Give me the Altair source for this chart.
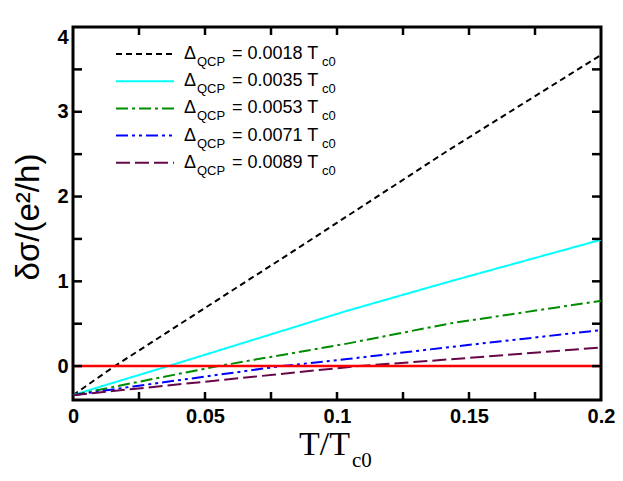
import altair as alt
import pandas as pd

# ---- data ----
series_names = ["0.0018", "0.0035", "0.0053", "0.0071", "0.0089"]
series_colors = ["#000000", "#00FFFF", "#008C00", "#0000FF", "#670748"]
series_dashes = [[6, 4], [1, 0], [12, 4, 3, 4], [12, 4, 3, 4, 3, 4], [14, 5]]

x_0018 = [0.0, 0.0158, 0.0848, 0.1429, 0.2]
y_0018 = [-0.343, 0.0, 1.383, 2.56, 3.67]

x_0035 = [0.0, 0.0101, 0.0361, 0.1038, 0.1429, 0.2]
y_0035 = [-0.343, -0.245, 0.0, 0.652, 1.0, 1.49]

x_0053 = [0.0, 0.0228, 0.055, 0.1038, 0.1429, 0.2]
y_0053 = [-0.343, -0.198, 0.0, 0.265, 0.504, 0.77]

x_0071 = [0.0, 0.0228, 0.079, 0.1038, 0.1429, 0.2]
y_0071 = [-0.343, -0.24, 0.0, 0.083, 0.225, 0.425]

x_0089 = [0.0, 0.0228, 0.108, 0.1429, 0.2]
y_0089 = [-0.343, -0.27, 0.0, 0.08, 0.22]

x_tick_labels = [0, 0.05, 0.1, 0.15, 0.2]
y_tick_labels = [0, 1, 2, 3, 4]
x_minor = [0.025, 0.05, 0.075, 0.1, 0.125, 0.15, 0.175]
y_minor = [0, 0.5, 1, 1.5, 2, 2.5, 3, 3.5]

W, H = 528, 373
FONT = "Liberation Sans"

xs = [x_0018, x_0035, x_0053, x_0071, x_0089]
ys = [y_0018, y_0035, y_0053, y_0071, y_0089]
rows = []
for name, xv, yv in zip(series_names, xs, ys):
    for a, b in zip(xv, yv):
        rows.append({"series": name, "x": a, "y": b})
df = pd.DataFrame(rows)

xscale = alt.Scale(domain=[0, 0.2], nice=False, zero=False)
yscale = alt.Scale(domain=[-0.4, 4], nice=False, zero=False)
cscale = alt.Scale(domain=series_names, range=series_colors)
dscale = alt.Scale(domain=series_names, range=series_dashes)

lines = alt.Chart(df).mark_line(strokeWidth=2).encode(
    x=alt.X("x:Q", scale=xscale,
            axis=alt.Axis(values=x_tick_labels, format="~g", grid=False, domain=False,
                          ticks=False, labelFont=FONT, labelFontWeight="bold",
                          labelFontSize=20, labelColor="black", labelPadding=22,
                          labelBaseline="alphabetic", labelFlush=False, title=None)),
    y=alt.Y("y:Q", scale=yscale,
            axis=alt.Axis(values=y_tick_labels, format="d", grid=False, domain=False,
                          ticks=False, labelFont=FONT, labelFontWeight="bold",
                          labelFontSize=20, labelColor="black", labelPadding=5,
                          labelFlush=True, title=None)),
    color=alt.Color("series:N", scale=cscale, legend=None),
    strokeDash=alt.StrokeDash("series:N", scale=dscale, legend=None),
)

zero_line = alt.Chart(pd.DataFrame({"z": [0]})).mark_rule(color="#FF0000", strokeWidth=2.5).encode(
    y=alt.Y("z:Q", scale=yscale)
)

# inward tick marks on all four sides
xt = pd.DataFrame({"v": x_minor})
yt = pd.DataFrame({"v": y_minor})
bottom_ticks = alt.Chart(xt).mark_rule(color="black", strokeWidth=2.5).encode(
    x=alt.X("v:Q", scale=xscale), y=alt.value(H), y2=alt.value(H - 8))
top_ticks = alt.Chart(xt).mark_rule(color="black", strokeWidth=2.5).encode(
    x=alt.X("v:Q", scale=xscale), y=alt.value(0), y2=alt.value(8))
left_ticks = alt.Chart(yt).mark_rule(color="black", strokeWidth=2.5).encode(
    y=alt.Y("v:Q", scale=yscale), x=alt.value(0), x2=alt.value(9))
right_ticks = alt.Chart(yt).mark_rule(color="black", strokeWidth=2.5).encode(
    y=alt.Y("v:Q", scale=yscale), x=alt.value(W - 9), x2=alt.value(W))

# ---- legend (custom, to allow subscripts) ----
leg = pd.DataFrame({"series": series_names})
leg["row"] = range(len(series_names))
leg["ly"] = 27 + 27.2 * leg["row"]
leg["tb"] = leg["ly"] + 5
leg["sb"] = leg["ly"] + 12
leg["txt"] = "= " + leg["series"] + " T"

leg_lines = alt.Chart(leg).mark_rule(strokeWidth=2).encode(
    x=alt.value(43), x2=alt.value(101),
    y=alt.Y("ly:Q", scale=None, axis=None),
    color=alt.Color("series:N", scale=cscale, legend=None),
    strokeDash=alt.StrokeDash("series:N", scale=dscale, legend=None),
)
leg_delta = alt.Chart(leg).mark_text(text="Δ", font=FONT, fontSize=18, align="left",
                                     baseline="alphabetic", color="black").encode(
    x=alt.value(111), y=alt.Y("tb:Q", scale=None, axis=None))
leg_qcp = alt.Chart(leg).mark_text(text="QCP", font=FONT, fontSize=13, align="left",
                                   baseline="alphabetic", color="black").encode(
    x=alt.value(124), y=alt.Y("sb:Q", scale=None, axis=None))
leg_val = alt.Chart(leg).mark_text(font=FONT, fontSize=18, align="left",
                                   baseline="alphabetic", color="black").encode(
    x=alt.value(159), y=alt.Y("tb:Q", scale=None, axis=None), text="txt:N")
leg_c0 = alt.Chart(leg).mark_text(text="c0", font=FONT, fontSize=13, align="left",
                                  baseline="alphabetic", color="black").encode(
    x=alt.value(249), y=alt.Y("sb:Q", scale=None, axis=None))

# ---- axis titles ----
ytitle = alt.Chart(pd.DataFrame({"t": ["δσ/(e²/h)"]})).mark_text(
    font=FONT, fontSize=33, angle=270, align="center", baseline="middle", color="black"
).encode(x=alt.value(-44), y=alt.value(190), text="t:N")
xtitle = alt.Chart(pd.DataFrame({"t": ["T/T"]})).mark_text(
    font="Liberation Serif", fontSize=34, align="right", baseline="alphabetic", color="black"
).encode(x=alt.value(277), y=alt.value(428), text="t:N")
xsub = alt.Chart(pd.DataFrame({"t": ["c0"]})).mark_text(
    font="Liberation Serif", fontSize=21, align="left", baseline="alphabetic", color="black"
).encode(x=alt.value(279), y=alt.value(440), text="t:N")

chart = alt.layer(
    lines, zero_line,
    leg_lines, leg_delta, leg_qcp, leg_val, leg_c0, ytitle, xtitle, xsub,
    bottom_ticks, top_ticks, left_ticks, right_ticks,
).properties(
    width=W, height=H,
    autosize=alt.AutoSizeParams(type="none"),
    padding={"left": 65, "top": 19, "right": 14, "bottom": 72},
    background="white",
).configure_view(stroke="black", strokeWidth=3)

chart.save("out.html", embed_options={"renderer": "svg", "actions": False})
